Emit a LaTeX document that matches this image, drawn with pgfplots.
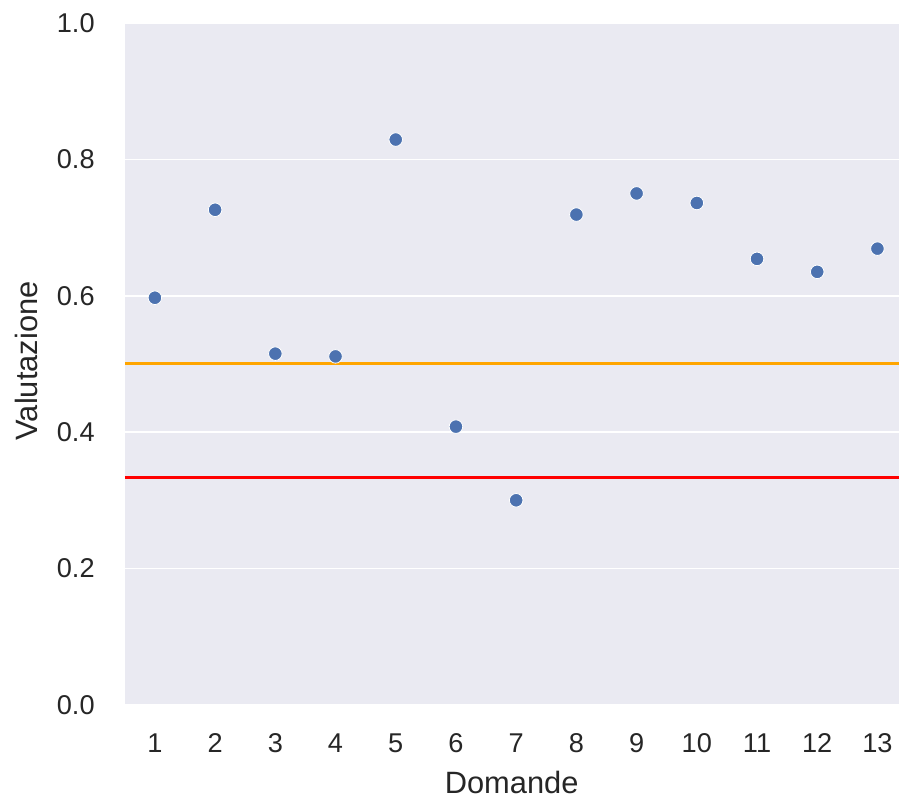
\documentclass[border=0pt]{standalone}
\usepackage{fontspec}
\setmainfont{Liberation Sans}
\usepackage{pgfplots}
\pgfplotsset{compat=1.18}
\usetikzlibrary{calc}
\definecolor{bgc}{HTML}{EAEAF2}
\definecolor{sblue}{HTML}{4C72B0}
\definecolor{txt}{HTML}{262626}
\definecolor{sorange}{HTML}{FFA500}
\definecolor{sred}{HTML}{FF0000}
\begin{document}
\fontsize{27}{32}\selectfont
\begin{tikzpicture}[x=1bp,y=1bp]
\begin{axis}[
  name=ax,
  scale only axis,
  width=775bp, height=683bp,
  xmin=0.5, xmax=13.35,
  ymin=0, ymax=1,
  axis background/.style={fill=bgc},
  axis line style={draw=none},
  major tick length=0pt,
  xtick={1,...,13},
  ytick={0,0.2,0.4,0.6,0.8,1.0},
  yticklabel style={/pgf/number format/fixed,/pgf/number format/fixed zerofill,/pgf/number format/precision=1},
  /pgf/number format/assume math mode=true,
  ymajorgrids,
  grid style={white, line width=1.6bp},
  tick label style={font=\fontsize{27.3}{32}\selectfont, text=txt, inner sep=0pt},
  label style={font=\fontsize{31}{36}\selectfont, text=txt, inner sep=0pt},
  xticklabel style={anchor=north, yshift=-29bp},
  yticklabel style={anchor=east, xshift=-30bp},
  xlabel={Domande},
  ylabel={Valutazione},
  xlabel style={at={($(rel axis cs:0.5,0)+(0bp,-89bp)$)}, anchor=base},
  ylabel style={at={($(rel axis cs:0,0.5)+(-110bp,3bp)$)}, anchor=north},
  clip=false,
]
\addplot[sorange, line width=3bp, forget plot] coordinates {(0.5,0.5) (13.35,0.5)};
\addplot[sred, line width=3bp, forget plot] coordinates {(0.5,0.3333) (13.35,0.3333)};
\addplot[only marks, mark=*, mark size=6.8bp, mark options={fill=sblue, draw=white, line width=0.8bp}] coordinates {
(1,0.597) (2,0.726) (3,0.515) (4,0.511) (5,0.829) (6,0.408) (7,0.300)
(8,0.719) (9,0.750) (10,0.736) (11,0.654) (12,0.635) (13,0.669)
};
\end{axis}
\path (ax.south west) ++(-125bp,-98bp) (ax.north east) ++(0bp,23bp);
\end{tikzpicture}
\end{document}
